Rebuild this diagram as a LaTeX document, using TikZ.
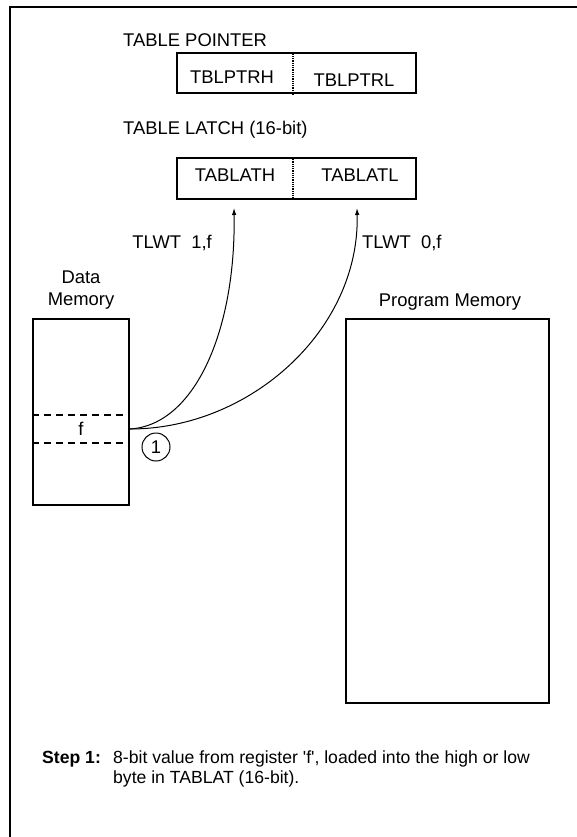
\documentclass[tikz,border=0pt]{standalone}
\usepackage{fontspec}
\setmainfont{Liberation Sans}
\usetikzlibrary{arrows.meta}
\tikzset{
  txt/.style={inner sep=0pt},
  regbox/.style={draw, line width=2pt, inner sep=0pt},
  divider/.style={line width=1.2pt, dash pattern=on 1pt off 0.8pt},
  cellline/.style={line width=1.3pt, dash pattern=on 7pt off 5pt},
  flow/.style={line width=1pt, -{Latex[length=7pt,width=4.5pt]}},
  numcirc/.style={draw, circle, line width=1pt, minimum size=28pt, inner sep=0pt},
  steptxt/.style={inner sep=0pt, font=\fontsize{17.6}{21}\selectfont},
}
\begin{document}
\begin{tikzpicture}[x=1pt,y=-1pt,font=\fontsize{18.4}{22}\selectfont]
\useasboundingbox (0,0) rectangle (576,837);
\fill[white] (0,0) rectangle (576,837);
% frame (only top and left visible)
\draw[line width=2pt] (10,845) -- (10,7) -- (590,7);

% table pointer
\node[txt, anchor=base west] (tplabel) at (123,47) {TABLE POINTER};
\node[regbox, minimum width=239pt, minimum height=40pt] (tp) at (296.5,73.5) {};
\coordinate (dx) at (293,0);
\draw[divider] (tp.north -| dx) -- (tp.south -| dx);
\node[txt, anchor=base] (tph) at (232,83.5) {TBLPTRH};
\node[txt, anchor=base] (tpl) at (354,86.5) {TBLPTRL};

% table latch
\node[txt, anchor=base west] (tllabel) at (123,135) {TABLE LATCH (16-bit)};
\node[regbox, minimum width=239pt, minimum height=41pt] (tl) at (296.5,178.5) {};
\draw[divider] (tl.north -| dx) -- (tl.south -| dx);
\node[txt, anchor=base] (tlh) at (235,182) {TABLATH};
\node[txt, anchor=base] (tll) at (360,182) {TABLATL};
\coordinate (ah) at (234,208);
\coordinate (al) at (357,208);

% instruction labels
\node[txt, anchor=base east] (w1) at (212,248.5) {TLWT\ \ 1,f};
\node[txt, anchor=base west] (w0) at (362,248.5) {TLWT\ \ 0,f};

% data memory
\node[txt, anchor=base] (dml1) at (81,283) {Data};
\node[txt, anchor=base] (dml2) at (81,305) {Memory};
\node[regbox, minimum width=96pt, minimum height=186pt] (dm) at (81,412) {};
\coordinate (c1y) at (0,415);
\coordinate (c2y) at (0,443);
\draw[cellline] (dm.west |- c1y) -- (dm.east |- c1y);
\draw[cellline] (dm.west |- c2y) -- (dm.east |- c2y);
\node[txt, anchor=base] (fl) at (81,435) {f};
\coordinate (src) at (130,429);
\node[numcirc] (one) at (156,447) {1};

% program memory
\node[txt, anchor=base] (pml) at (450,306.5) {Program Memory};
\node[regbox, minimum width=203pt, minimum height=384pt] (pm) at (447.5,511) {};

% flows
\draw[flow] (src) .. controls (195,425) and (236,330) .. (ah);
\draw[flow] (src) .. controls (250,429) and (360,330) .. (al);

% step text
\node[steptxt, anchor=base west, font=\fontsize{17.6}{21}\selectfont\bfseries] (st) at (42,763) {Step 1:};
\node[steptxt, anchor=base west] (s1) at (113,763) {8-bit value from register \textquotesingle f\textquotesingle, loaded into the high or low};
\node[steptxt, anchor=base west] (s2) at (113,783) {byte in TABLAT (16-bit).};
\end{tikzpicture}
\end{document}
